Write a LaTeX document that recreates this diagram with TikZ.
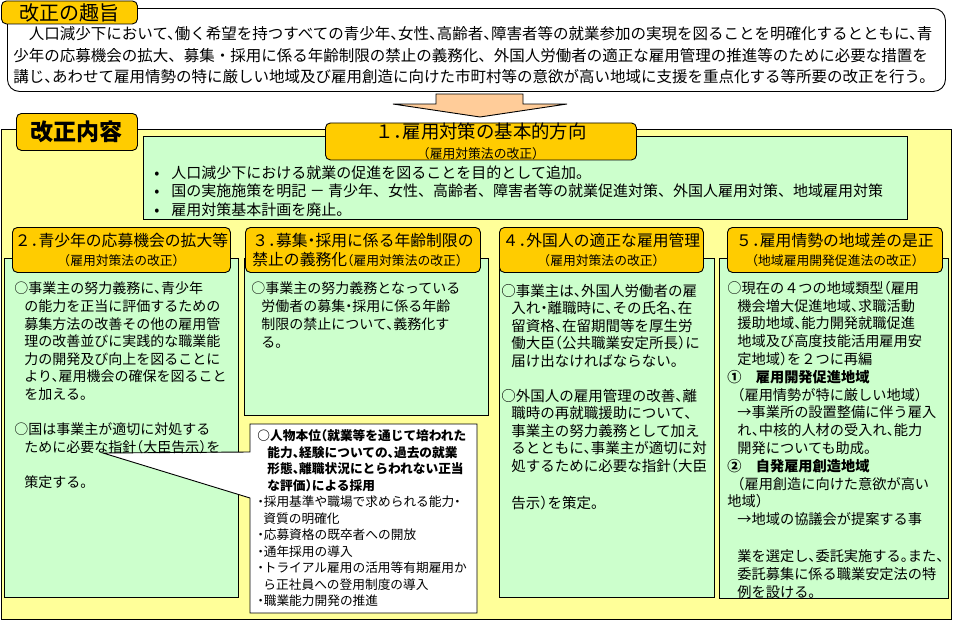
\documentclass[tikz,border=0pt]{standalone}
\usepackage{fontspec}
\setmainfont{Noto Sans CJK JP}[RawFeature=+halt]
\definecolor{tabgold}{HTML}{FFCC00}
\definecolor{paleyellow}{HTML}{FFFF99}
\definecolor{palegreen}{HTML}{CCFFCC}
\definecolor{peach}{HTML}{FFCC99}
\newcommand{\cont}{\hspace*{10pt}}
\newcommand{\bpt}{\makebox[19pt][l]{\hspace{2pt}•}}
\newcommand{\subfont}{\fontsize{12.8}{15}\selectfont}
\newcommand{\fullpunct}{\addfontfeature{RawFeature=-halt}}
\begin{document}
\begin{tikzpicture}[x=1pt,y=-1pt,line width=0.9pt]
\tikzset{
  tab/.style={draw,fill=tabgold,rounded corners=5pt,anchor=north west,inner sep=0pt,align=center,font=\fontsize{15.8}{19}\selectfont},
  panel/.style={draw,fill=palegreen,anchor=north west,inner sep=0pt},
  body/.style={anchor=north west,inner sep=0pt,align=left}
}
\useasboundingbox (0,0) rectangle (953,621);
\fill[white] (0,0) rectangle (953,621);
% 改正の趣旨
\node[draw,fill=white,rounded corners=12pt,anchor=north west,inner sep=0pt,minimum width=938pt,minimum height=83pt] (aim) at (7,8) {};
\node[tab,minimum width=136pt,minimum height=23pt,font=\fontsize{20}{20}\selectfont] (aimtab) at (1,0.5) {改正の趣旨};
\draw[fill=peach] (436,94) -- (523,94) -- (523,104) -- (567,104) -- (480,117) -- (393,104) -- (436,104) -- cycle;
% 改正内容
\node[draw,fill=paleyellow,anchor=north west,inner sep=0pt,minimum width=950pt,minimum height=490pt] (content) at (1,129) {};
\node[tab,minimum width=121pt,minimum height=37pt,font=\fontsize{23}{23}\selectfont\bfseries] (contenttab) at (16,113) {改正内容};
\node[panel,minimum width=764pt,minimum height=83pt] (policy) at (143,136) {};
\node[tab,minimum width=311pt,minimum height=37pt,font=\fontsize{18.4}{19.5}\selectfont] (policytab) at (325,122.5) {１．雇用対策の基本的方向\\{\subfont（雇用対策法の改正）}};
\node[panel,minimum width=234pt,minimum height=339pt] (youth) at (4,258) {};
\node[tab,minimum width=218pt,minimum height=45pt] (youthtab) at (12,227) {２．青少年の応募機会の拡大等\\{\subfont（雇用対策法の改正）}};
\node[panel,minimum width=244pt,minimum height=157pt] (agelimit) at (244,258) {};
\node[tab,minimum width=235pt,minimum height=45pt,align=left] (agelimittab) at (245,227) {３．募集・採用に係る年齢制限の\\禁止の義務化{\subfont（雇用対策法の改正）}};
\node[panel,minimum width=215pt,minimum height=339pt] (foreign) at (499,258) {};
\node[tab,minimum width=204pt,minimum height=45pt] (foreigntab) at (499,227) {４．外国人の適正な雇用管理\\{\subfont（雇用対策法の改正）}};
\node[panel,minimum width=229pt,minimum height=340pt] (region) at (719,258) {};
\node[tab,minimum width=215pt,minimum height=45pt] (regiontab) at (727,227) {５．雇用情勢の地域差の是正\\{\subfont（地域雇用開発促進法の改正）}};
% 吹き出し
\coordinate (tip) at (103,453);
\draw[fill=white] (250,424) -| (477,613) -| (250,498) -- (tip) -- (250,452) -- cycle;
% 本文
\node[body,font=\fontsize{15.5}{21.5}\selectfont] (aimtext) at (13,26) {　人口減少下において、働く希望を持つすべての青少年、女性、高齢者、障害者等の就業参加の実現を図ることを明確化するとともに、青\\{\fullpunct 少年の応募機会の拡大、募集・採用に係る年齢制限の禁止の義務化、外国人労働者の適正な雇用管理の推進等のために必要な措置を}\\講じ、あわせて雇用情勢の特に厳しい地域及び雇用創造に向けた市町村等の意欲が高い地域に支援を重点化する等所要の改正を行う。};
\node[body,font=\fontsize{15}{18.5}\selectfont\fullpunct] (policytext) at (152,165.3) {\bpt 人口減少下における就業の促進を図ることを目的として追加。\\\bpt 国の実施施策を明記 － 青少年、女性、高齢者、障害者等の就業促進対策、外国人雇用対策、地域雇用対策\\\bpt 雇用対策基本計画を廃止。};
\node[body,font=\fontsize{14}{17.6}\selectfont] (youthtext) at (14,281.7) {○事業主の努力義務に、青少年\\\cont の能力を正当に評価するための\\\cont 募集方法の改善その他の雇用管\\\cont 理の改善並びに実践的な職業能\\\cont 力の開発及び向上を図ることに\\\cont より、雇用機会の確保を図ること\\\cont を加える。\\[17.6pt]○国は事業主が適切に対処する\\\cont ために必要な指針（大臣告示）を\\[17.6pt]\cont 策定する。};
\node[body,font=\fontsize{14}{18}\selectfont] (agelimittext) at (251,281.7) {○事業主の努力義務となっている\\\cont 労働者の募集・採用に係る年齢\\\cont 制限の禁止について、義務化す\\\cont る。};
\node[body,font=\fontsize{14.5}{17.5}\selectfont] (foreigntext) at (501,283.5) {○事業主は、外国人労働者の雇\\\cont 入れ・離職時に、その氏名、在\\\cont 留資格、在留期間等を厚生労\\\cont 働大臣（公共職業安定所長）に\\\cont 届け出なければならない。\\[17.5pt]○外国人の雇用管理の改善、離\\\cont 職時の再就職援助について、\\\cont 事業主の努力義務として加え\\\cont るとともに、事業主が適切に対\\\cont 処するために必要な指針（大臣\\[20pt]\cont 告示）を策定。};
\node[body,font=\fontsize{14.2}{17.8}\selectfont] (regiontext) at (727,280.6) {○現在の４つの地域類型（雇用\\\cont 機会増大促進地域、求職活動\\\cont 援助地域、能力開発就職促進\\\cont 地域及び高度技能活用雇用安\\\cont 定地域）を２つに再編\\\textbf{①　雇用開発促進地域}\\\cont （雇用情勢が特に厳しい地域）\\\cont →事業所の設置整備に伴う雇入\\\cont れ、中核的人材の受入れ、能力\\\cont 開発についても助成。\\\textbf{②　自発雇用創造地域}\\\cont （雇用創造に向けた意欲が高い\\地域）\\\cont →地域の協議会が提案する事\\[19pt]\cont 業を選定し、委託実施する。また、\\\cont 委託募集に係る職業安定法の特\\\cont 例を設ける。};
\node[body,font=\fontsize{12.7}{16.5}\selectfont] (hiringtext) at (257,429.3) {\textbf{○人物本位（就業等を通じて培われた}\\\textbf{\cont 能力、経験についての、過去の就業}\\\textbf{\cont 形態、離職状況にとらわれない正当}\\\textbf{\cont な評価）による採用}\\・採用基準や職場で求められる能力・\\\hspace*{6pt}資質の明確化\\・応募資格の既卒者への開放\\・通年採用の導入\\・トライアル雇用の活用等有期雇用か\\\hspace*{6pt}ら正社員への登用制度の導入\\・職業能力開発の推進};
\end{tikzpicture}
\end{document}
